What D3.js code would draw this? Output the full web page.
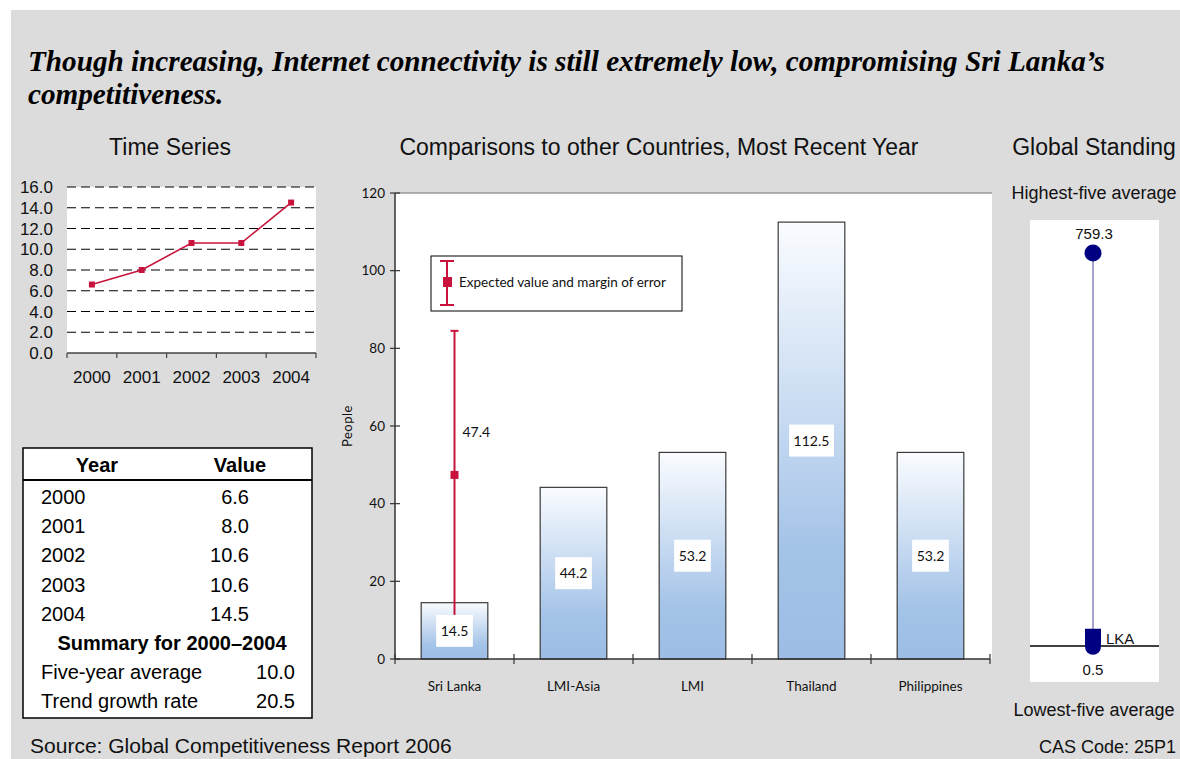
<!DOCTYPE html>
<html>
<head>
<meta charset="utf-8">
<script src="https://cdn.jsdelivr.net/npm/d3@7"></script>
<style>
  body { margin: 0; background: #ffffff; }
  svg { display: block; }
</style>
</head>
<body>
<svg id="chart" width="1180" height="759"></svg>
<script>
// ---- Data ----
const headline = [
  "Though increasing, Internet connectivity is still extremely low, compromising Sri Lanka\u2019s",
  "competitiveness."
];
const years = ["2000", "2001", "2002", "2003", "2004"];
const yearValues = [6.6, 8.0, 10.6, 10.6, 14.5];
const timeTicks = [0, 2, 4, 6, 8, 10, 12, 14, 16];
const summaryLabels = ["Five-year average", "Trend growth rate"];
const summaryValues = [10.0, 20.5];

const countries = ["Sri Lanka", "LMI-Asia", "LMI", "Thailand", "Philippines"];
const countryValues = [14.5, 44.2, 53.2, 112.5, 53.2];
const comparisonTicks = [0, 20, 40, 60, 80, 100, 120];
const expectedValue = 47.4;
const marginOfError = 37.1;

const globalLabels = ["Highest-five average", "Lowest-five average"];
const globalRange = [0.5, 759.3];
const countryCode = "LKA";
const countryScore = 14.5;

// ---- Styles ----
const SANS = "'Liberation Sans', Arial, sans-serif";
const NARROW = "'Liberation Sans Narrow', 'Arial Narrow', 'Liberation Sans', sans-serif";
const SERIF = "'Liberation Serif', 'Times New Roman', serif";
const HUMANIST = "Lato, 'Open Sans', sans-serif";
const RED = "#c8143c";
const NAVY = "#000080";

const svg = d3.select("#chart");

// scale a text's font size so its run matches a given width
function fitWidth(sel, width) {
  const w = sel.node().getComputedTextLength();
  const fs = parseFloat(sel.attr("font-size"));
  if (w > 0) sel.attr("font-size", (fs * width / w).toFixed(2));
  return sel;
}

// Page background
svg.append("rect").attr("x", 11).attr("y", 10).attr("width", 1169).attr("height", 749).attr("fill", "#dcdcdc");

// Headline
const h1 = svg.append("text").attr("x", 28).attr("y", 71)
  .attr("font-family", SERIF).attr("font-weight", "bold").attr("font-style", "italic")
  .attr("font-size", 25).attr("fill", "#000").text(headline[0]);
fitWidth(h1, 1077);
svg.append("text").attr("x", 28).attr("y", 104)
  .attr("font-family", SERIF).attr("font-weight", "bold").attr("font-style", "italic")
  .attr("font-size", h1.attr("font-size")).attr("fill", "#000").text(headline[1]);

// Panel titles
[["Time Series", 170], ["Comparisons to other Countries, Most Recent Year", 659], ["Global Standing", 1094]]
  .forEach(([t, cx]) => {
    svg.append("text").attr("x", cx).attr("y", 155).attr("text-anchor", "middle")
      .attr("font-family", SANS).attr("font-size", 23).attr("fill", "#111").text(t);
  });

// ---- Time series ----
const ts = svg.append("g");
const tsX = d3.scaleBand().domain(years).range([67, 316]);
const tsY = d3.scaleLinear().domain([0, 16]).range([353, 187]);

ts.append("rect").attr("x", 67).attr("y", tsY(16)).attr("width", 316 - 67).attr("height", tsY(0) - tsY(16)).attr("fill", "#fff");

ts.selectAll("line.grid").data(timeTicks.filter(d => d > 0)).join("line")
  .attr("class", "grid")
  .attr("x1", 67).attr("x2", 316)
  .attr("y1", d => tsY(d)).attr("y2", d => tsY(d))
  .attr("stroke", "#000").attr("stroke-width", 1).attr("stroke-dasharray", "9,5");

ts.selectAll("text.ytick").data(timeTicks).join("text")
  .attr("class", "ytick")
  .attr("x", 53).attr("y", d => tsY(d)).attr("dy", "0.36em")
  .attr("text-anchor", "end").attr("font-family", SANS).attr("font-size", 17).attr("fill", "#111")
  .text(d => d.toFixed(1));

ts.append("line").attr("x1", 67).attr("x2", 316).attr("y1", tsY(0)).attr("y2", tsY(0))
  .attr("stroke", "#444").attr("stroke-width", 1.5);
const tsBounds = years.map(y => tsX(y)).concat([tsX.range()[1]]);
ts.selectAll("line.xtick").data(tsBounds).join("line")
  .attr("class", "xtick")
  .attr("x1", d => d).attr("x2", d => d)
  .attr("y1", tsY(0)).attr("y2", tsY(0) + 5)
  .attr("stroke", "#444").attr("stroke-width", 1.2);

ts.selectAll("text.xlab").data(years).join("text")
  .attr("class", "xlab")
  .attr("x", d => tsX(d) + tsX.bandwidth() / 2).attr("y", 383)
  .attr("text-anchor", "middle").attr("font-family", SANS).attr("font-size", 17).attr("fill", "#111")
  .text(d => d);

const tsPts = years.map((y, i) => [tsX(y) + tsX.bandwidth() / 2, tsY(yearValues[i])]);
ts.append("path").attr("d", d3.line()(tsPts)).attr("fill", "none").attr("stroke", RED).attr("stroke-width", 1.6);
ts.selectAll("rect.pt").data(tsPts).join("rect")
  .attr("class", "pt")
  .attr("x", d => d[0] - 3).attr("y", d => d[1] - 3).attr("width", 6).attr("height", 6)
  .attr("fill", RED);

// ---- Data table ----
const tb = svg.append("g");
tb.append("rect").attr("x", 23).attr("y", 448).attr("width", 289).attr("height", 270)
  .attr("fill", "#fff").attr("stroke", "#000").attr("stroke-width", 1.5);
tb.append("line").attr("x1", 23).attr("x2", 312).attr("y1", 480).attr("y2", 480)
  .attr("stroke", "#000").attr("stroke-width", 2);
tb.append("text").attr("x", 97).attr("y", 472).attr("text-anchor", "middle")
  .attr("font-family", SANS).attr("font-weight", "bold").attr("font-size", 20).text("Year");
tb.append("text").attr("x", 240).attr("y", 472).attr("text-anchor", "middle")
  .attr("font-family", SANS).attr("font-weight", "bold").attr("font-size", 20).text("Value");

const rowY = i => 504 + i * 29.2;
tb.selectAll("text.year").data(years).join("text")
  .attr("class", "year")
  .attr("x", 41).attr("y", (d, i) => rowY(i))
  .attr("font-family", SANS).attr("font-size", 20).attr("fill", "#000").text(d => d);
tb.selectAll("text.val").data(yearValues).join("text")
  .attr("class", "val")
  .attr("x", 249).attr("y", (d, i) => rowY(i)).attr("text-anchor", "end")
  .attr("font-family", SANS).attr("font-size", 20).attr("fill", "#000").text(d => d.toFixed(1));
tb.append("text").attr("x", 172).attr("y", rowY(5)).attr("text-anchor", "middle")
  .attr("font-family", SANS).attr("font-weight", "bold").attr("font-size", 20)
  .text(`Summary for ${years[0]}\u2013${years[years.length - 1]}`);
tb.selectAll("text.slab").data(summaryLabels).join("text")
  .attr("class", "slab")
  .attr("x", 41).attr("y", (d, i) => rowY(6 + i))
  .attr("font-family", SANS).attr("font-size", 20).attr("fill", "#000").text(d => d);
tb.selectAll("text.sval").data(summaryValues).join("text")
  .attr("class", "sval")
  .attr("x", 295).attr("y", (d, i) => rowY(6 + i)).attr("text-anchor", "end")
  .attr("font-family", SANS).attr("font-size", 20).attr("fill", "#000").text(d => d.toFixed(1));

// ---- Country comparison ----
const cmp = svg.append("g");
const cx = d3.scaleBand().domain(countries).range([395, 990]).paddingInner(0.44).paddingOuter(0.22);
const cy = d3.scaleLinear().domain([0, 120]).range([659, 193]);

const defs = svg.append("defs");
const grad = defs.append("linearGradient").attr("id", "barFill").attr("x1", 0).attr("y1", 0).attr("x2", 0).attr("y2", 1);
grad.append("stop").attr("offset", "0%").attr("stop-color", "#fafcff");
grad.append("stop").attr("offset", "75%").attr("stop-color", "#a4c3e8");
grad.append("stop").attr("offset", "100%").attr("stop-color", "#9dbde5");

cmp.append("rect").attr("x", 395).attr("y", cy(120)).attr("width", 597).attr("height", cy(0) - cy(120)).attr("fill", "#fff");
cmp.append("line").attr("x1", 395).attr("x2", 992).attr("y1", cy(120)).attr("y2", cy(120))
  .attr("stroke", "#999").attr("stroke-width", 1.5);

// y axis
cmp.append("line").attr("x1", 395).attr("x2", 395).attr("y1", cy(120)).attr("y2", cy(0))
  .attr("stroke", "#333").attr("stroke-width", 1.5);
cmp.selectAll("line.ytick").data(comparisonTicks).join("line")
  .attr("class", "ytick")
  .attr("x1", 390).attr("x2", 400).attr("y1", d => cy(d)).attr("y2", d => cy(d))
  .attr("stroke", "#333").attr("stroke-width", 1.2);
cmp.selectAll("text.ytick").data(comparisonTicks).join("text")
  .attr("class", "ytick")
  .attr("x", 385).attr("y", d => cy(d)).attr("dy", "0.35em").attr("text-anchor", "end")
  .attr("font-family", HUMANIST).attr("font-size", 13.5).attr("fill", "#111").text(d => d);
cmp.append("text").attr("transform", `translate(352,${(cy(0) + cy(120)) / 2}) rotate(-90)`)
  .attr("text-anchor", "middle").attr("font-family", HUMANIST).attr("font-size", 13)
  .attr("letter-spacing", 0.5).attr("fill", "#111").text("People");

// bars
cmp.selectAll("rect.bar").data(countries).join("rect")
  .attr("class", "bar")
  .attr("x", d => cx(d)).attr("width", cx.bandwidth())
  .attr("y", (d, i) => cy(countryValues[i])).attr("height", (d, i) => cy(0) - cy(countryValues[i]))
  .attr("fill", "url(#barFill)").attr("stroke", "#3a3a3a").attr("stroke-width", 1.2);

// x axis
cmp.append("line").attr("x1", 395).attr("x2", 990).attr("y1", cy(0)).attr("y2", cy(0))
  .attr("stroke", "#333").attr("stroke-width", 1.5);
const cBounds = countries.map(c => cx(c) - cx.step() * cx.paddingInner() / 2)
  .map((v, i) => i === 0 ? 395 : v).concat([990]);
cmp.selectAll("line.xtick").data(cBounds).join("line")
  .attr("class", "xtick")
  .attr("x1", d => d).attr("x2", d => d).attr("y1", cy(0) - 5).attr("y2", cy(0) + 5)
  .attr("stroke", "#333").attr("stroke-width", 1.2);
cmp.selectAll("text.xlab").data(countries).join("text")
  .attr("class", "xlab")
  .attr("x", d => cx(d) + cx.bandwidth() / 2).attr("y", 691).attr("text-anchor", "middle")
  .attr("font-family", HUMANIST).attr("font-size", 13.5).attr("fill", "#111").text(d => d);

// expected value with margin of error (Sri Lanka)
const ex = cx(countries[0]) + cx.bandwidth() / 2;
cmp.append("line").attr("x1", ex).attr("x2", ex)
  .attr("y1", cy(expectedValue + marginOfError)).attr("y2", cy(expectedValue - marginOfError))
  .attr("stroke", RED).attr("stroke-width", 2);
cmp.append("line").attr("x1", ex - 4).attr("x2", ex + 4)
  .attr("y1", cy(expectedValue + marginOfError)).attr("y2", cy(expectedValue + marginOfError))
  .attr("stroke", RED).attr("stroke-width", 2);
cmp.append("line").attr("x1", ex - 4).attr("x2", ex + 4)
  .attr("y1", cy(expectedValue - marginOfError)).attr("y2", cy(expectedValue - marginOfError))
  .attr("stroke", RED).attr("stroke-width", 2);
cmp.append("rect").attr("x", ex - 4).attr("y", cy(expectedValue) - 4).attr("width", 8).attr("height", 8).attr("fill", RED);
cmp.append("text").attr("x", ex + 8).attr("y", cy(expectedValue) - 38)
  .attr("font-family", HUMANIST).attr("font-size", 14).attr("fill", "#111").text(expectedValue.toFixed(1));

// value labels on white boxes, centred in each bar
countries.forEach((c, i) => {
  const v = countryValues[i];
  const mx = cx(c) + cx.bandwidth() / 2;
  const my = (cy(v) + cy(0)) / 2;
  const box = cmp.append("rect").attr("fill", "#fff");
  const t = cmp.append("text").attr("x", mx).attr("y", my).attr("dy", "0.36em").attr("text-anchor", "middle")
    .attr("font-family", HUMANIST).attr("font-size", 14).attr("fill", "#111").text(v.toFixed(1));
  const w = t.node().getComputedTextLength() + 9;
  box.attr("x", mx - w / 2).attr("y", my - 16).attr("width", w).attr("height", 32);
});

// legend
const lg = cmp.append("g");
lg.append("rect").attr("x", 431).attr("y", 256).attr("width", 251).attr("height", 55)
  .attr("fill", "#fff").attr("stroke", "#000").attr("stroke-width", 1);
lg.append("line").attr("x1", 447).attr("x2", 447).attr("y1", 261).attr("y2", 305).attr("stroke", RED).attr("stroke-width", 2);
lg.append("line").attr("x1", 440).attr("x2", 454).attr("y1", 261).attr("y2", 261).attr("stroke", RED).attr("stroke-width", 2);
lg.append("line").attr("x1", 440).attr("x2", 454).attr("y1", 305).attr("y2", 305).attr("stroke", RED).attr("stroke-width", 2);
lg.append("rect").attr("x", 443).attr("y", 277).attr("width", 9).attr("height", 10).attr("fill", RED);
lg.append("text").attr("x", 459).attr("y", 287).attr("font-family", HUMANIST).attr("font-size", 13.5)
  .attr("fill", "#111").text("Expected value and margin of error");

// ---- Global standing ----
const gs = svg.append("g");
const gy = d3.scaleLinear().domain(globalRange).range([646, 253]);
const gx = 1093;
gs.append("rect").attr("x", 1030).attr("y", 220).attr("width", 129).attr("height", 462).attr("fill", "#fff");
gs.append("line").attr("x1", 1030).attr("x2", 1159).attr("y1", gy(globalRange[0])).attr("y2", gy(globalRange[0]))
  .attr("stroke", "#000").attr("stroke-width", 1.3);
gs.append("line").attr("x1", gx).attr("x2", gx).attr("y1", gy(globalRange[1])).attr("y2", gy(countryScore))
  .attr("stroke", "#4848a0").attr("stroke-width", 1);
gs.append("circle").attr("cx", gx).attr("cy", gy(globalRange[1])).attr("r", 8.5).attr("fill", NAVY);
const my = gy(countryScore);
gs.append("path")
  .attr("d", `M${gx - 8},${my - 10} H${gx + 8} V${my + 8} A8,8 0 0 1 ${gx - 8},${my + 8} Z`)
  .attr("fill", NAVY);
gs.append("text").attr("x", gx + 13).attr("y", my + 5).attr("font-family", SANS).attr("font-size", 15)
  .attr("fill", "#111").text(countryCode);
gs.append("text").attr("x", gx + 1).attr("y", gy(globalRange[1]) - 14).attr("text-anchor", "middle")
  .attr("font-family", SANS).attr("font-size", 15).attr("fill", "#111").text(globalRange[1].toFixed(1));
gs.append("text").attr("x", gx).attr("y", gy(globalRange[0]) + 29).attr("text-anchor", "middle")
  .attr("font-family", SANS).attr("font-size", 15).attr("fill", "#111").text(globalRange[0].toFixed(1));
gs.append("text").attr("x", 1094).attr("y", 199).attr("text-anchor", "middle")
  .attr("font-family", SANS).attr("font-size", 18).attr("fill", "#111").text(globalLabels[0]);
gs.append("text").attr("x", 1094).attr("y", 716).attr("text-anchor", "middle")
  .attr("font-family", SANS).attr("font-size", 18).attr("fill", "#111").text(globalLabels[1]);

// ---- Footer ----
const src = svg.append("text").attr("x", 30).attr("y", 753).attr("font-family", SANS).attr("font-size", 19)
  .attr("fill", "#111").text("Source: Global Competitiveness Report 2006");
fitWidth(src, 422);
svg.append("text").attr("x", 1176).attr("y", 753).attr("text-anchor", "end")
  .attr("font-family", NARROW).attr("font-size", 18).attr("fill", "#111").text("CAS Code: 25P1");
</script>
</body>
</html>
